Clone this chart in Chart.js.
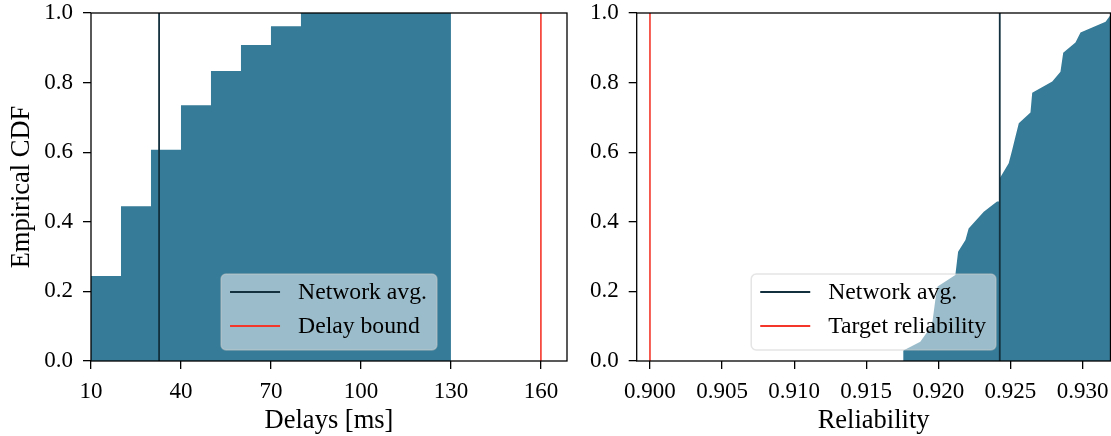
<!DOCTYPE html>
<html>
<head>
<meta charset="utf-8">
<script src="https://cdn.jsdelivr.net/npm/chart.js@4"></script>
<style>
  html, body { margin:0; padding:0; background:#fff; }
  #wrap { position:relative; width:1111px; height:436px; }
  #wrap canvas { position:absolute; top:0; }
</style>
</head>
<body>
<div id="wrap">
  <canvas id="delay-cdf" width="580" height="436" style="left:0"></canvas>
  <canvas id="rel-cdf" width="531" height="436" style="left:580px"></canvas>
</div>
<script>
/* ── data ── */
var delayX   = [10, 20, 30, 40, 50, 60, 70, 80, 130];
var delayCdf = [0.244, 0.445, 0.607, 0.735, 0.833, 0.908, 0.962, 1.0, 1.0];
var delayAvg = 32.7;
var delayBound = 160;
var delayTicks = [10, 40, 70, 100, 130, 160];

var relX   = [0.91755, 0.91757, 0.91875, 0.91956, 0.91979, 0.91995, 0.92118, 0.92137, 0.92188, 0.92210,
              0.92315, 0.92407, 0.92426, 0.92426, 0.92488, 0.92512, 0.92535, 0.92558, 0.92639, 0.92651,
              0.92790, 0.92847, 0.92866, 0.92951, 0.92986, 0.93160, 0.93194, 0.93220];
var relCdf = [0.000, 0.030, 0.055, 0.103, 0.175, 0.214, 0.247, 0.314, 0.348, 0.381,
              0.429, 0.458, 0.458, 0.525, 0.568, 0.606, 0.645, 0.683, 0.714, 0.771,
              0.803, 0.831, 0.886, 0.915, 0.944, 0.975, 0.994, 1.000];
var relAvg = 0.92426;
var relTarget = 0.900;
var relTicks = [0.900, 0.905, 0.910, 0.915, 0.920, 0.925, 0.930];

var cdfTicks = [0, 0.2, 0.4, 0.6, 0.8, 1.0];

var FILL = '#367b97';
var AVG_COLOR = '#12303d';
var RED = '#f4362a';
var SERIF = "'Liberation Serif', 'Times New Roman', serif";

function pts(xs, ys){
  return xs.map(function(x, i){ return {x:x, y:ys[i]}; });
}
function vline(x){
  return [{x:x, y:0}, {x:x, y:1}];
}

/* box round the plot + matplotlib-like legend */
var framePlugin = {
  id:'frame',
  afterDatasetsDraw:function(chart){
    var a = chart.chartArea, ctx = chart.ctx;
    ctx.save();
    ctx.strokeStyle = '#000';
    ctx.lineWidth = 1.3;
    ctx.strokeRect(a.left, a.top, a.right - a.left, a.bottom - a.top);
    ctx.restore();
  },
  afterDraw:function(chart){
    var items = chart.data.datasets.filter(function(d){ return d.inLegend; });
    if(!items.length) return;
    var a = chart.chartArea, ctx = chart.ctx;
    ctx.save();
    ctx.font = '23.7px ' + SERIF;
    var tw = 0;
    items.forEach(function(d){ tw = Math.max(tw, ctx.measureText(d.label).width); });
    var w = 9 + 50 + 18 + tw + 10, h = 76;
    var x = (a.left + a.right)/2 - w/2, y = a.bottom - 11 - h;
    ctx.beginPath();
    ctx.roundRect(x, y, w, h, 5);
    ctx.fillStyle = 'rgba(255,255,255,0.5)';
    ctx.fill();
    ctx.strokeStyle = 'rgba(204,204,204,0.5)';
    ctx.lineWidth = 1.5;
    ctx.stroke();
    items.forEach(function(d, i){
      var cy = y + 18 + i*34;
      ctx.beginPath();
      ctx.moveTo(x + 9, cy); ctx.lineTo(x + 59, cy);
      ctx.strokeStyle = d.borderColor; ctx.lineWidth = 2;
      ctx.stroke();
      ctx.fillStyle = '#000';
      ctx.textBaseline = 'middle';
      ctx.fillText(d.label, x + 77, cy + 1);
    });
    ctx.restore();
  }
};

function axisX(min, max, ticks, fmt, title, height){
  return {
    type:'linear', min:min, max:max,
    afterBuildTicks:function(s){ s.ticks = ticks.map(function(v){ return {value:v}; }); },
    afterFit:function(s){ s.height = height; s.paddingLeft = 0; s.paddingRight = 0; },
    border:{display:false},
    grid:{drawOnChartArea:false, drawTicks:true, tickLength:8, tickColor:'#000', lineWidth:1.3},
    ticks:{color:'#000', font:{family:SERIF, size:23}, padding:9, maxRotation:0, autoSkip:false,
           callback:function(v){ return fmt(v); }},
    title:{display:true, text:title, color:'#000', font:{family:SERIF, size:26.5}, padding:{top:0, bottom:-1}}
  };
}
function axisY(width, withTitle){
  return {
    type:'linear', min:0, max:1,
    afterBuildTicks:function(s){ s.ticks = cdfTicks.map(function(v){ return {value:v}; }); },
    afterFit:function(s){ s.width = width; s.paddingTop = 0; s.paddingBottom = 0; },
    border:{display:false},
    grid:{drawOnChartArea:false, drawTicks:true, tickLength:8, tickColor:'#000', lineWidth:1.3},
    ticks:{color:'#000', font:{family:SERIF, size:23}, padding:10,
           callback:function(v){ return v.toFixed(1); }},
    title:{display:withTitle, text:'Empirical CDF', color:'#000', font:{family:SERIF, size:26.5}, padding:{top:6, bottom:0}}
  };
}

function buildChart(id, fillData, avgX, boundX, boundLabel, xScale, yScale, padRight){
  return new Chart(document.getElementById(id), {
    type:'line',
    data:{
      datasets:[
        {label:'cdf', order:3, data:fillData.pts, stepped:fillData.stepped, fill:'origin',
         backgroundColor:FILL, borderWidth:0, pointRadius:0, tension:0},
        {label:'Network avg.', order:2, inLegend:true, data:vline(avgX), borderColor:AVG_COLOR,
         borderWidth:1.8, pointRadius:0, fill:false},
        {label:boundLabel, order:1, inLegend:true, data:vline(boundX), borderColor:RED,
         borderWidth:1.6, pointRadius:0, fill:false}
      ]
    },
    options:{
      responsive:false, animation:false, parsing:false,
      layout:{padding:{top:13, right:padRight, left:0, bottom:0}},
      plugins:{legend:{display:false}, tooltip:{enabled:false}},
      scales:{x:xScale, y:yScale}
    },
    plugins:[framePlugin]
  });
}

buildChart('delay-cdf', {pts:pts(delayX, delayCdf), stepped:'before'}, delayAvg, delayBound, 'Delay bound',
  axisX(10, 168.7, delayTicks, function(v){ return String(v); }, 'Delays [ms]', 75),
  axisY(91, true), 13);

buildChart('rel-cdf', {pts:pts(relX, relCdf), stepped:false}, relAvg, relTarget, 'Target reliability',
  axisX(0.89908, 0.93194, relTicks, function(v){ return v.toFixed(3); }, 'Reliability', 75),
  axisY(56.7, false), 0.5);
</script>
</body>
</html>
